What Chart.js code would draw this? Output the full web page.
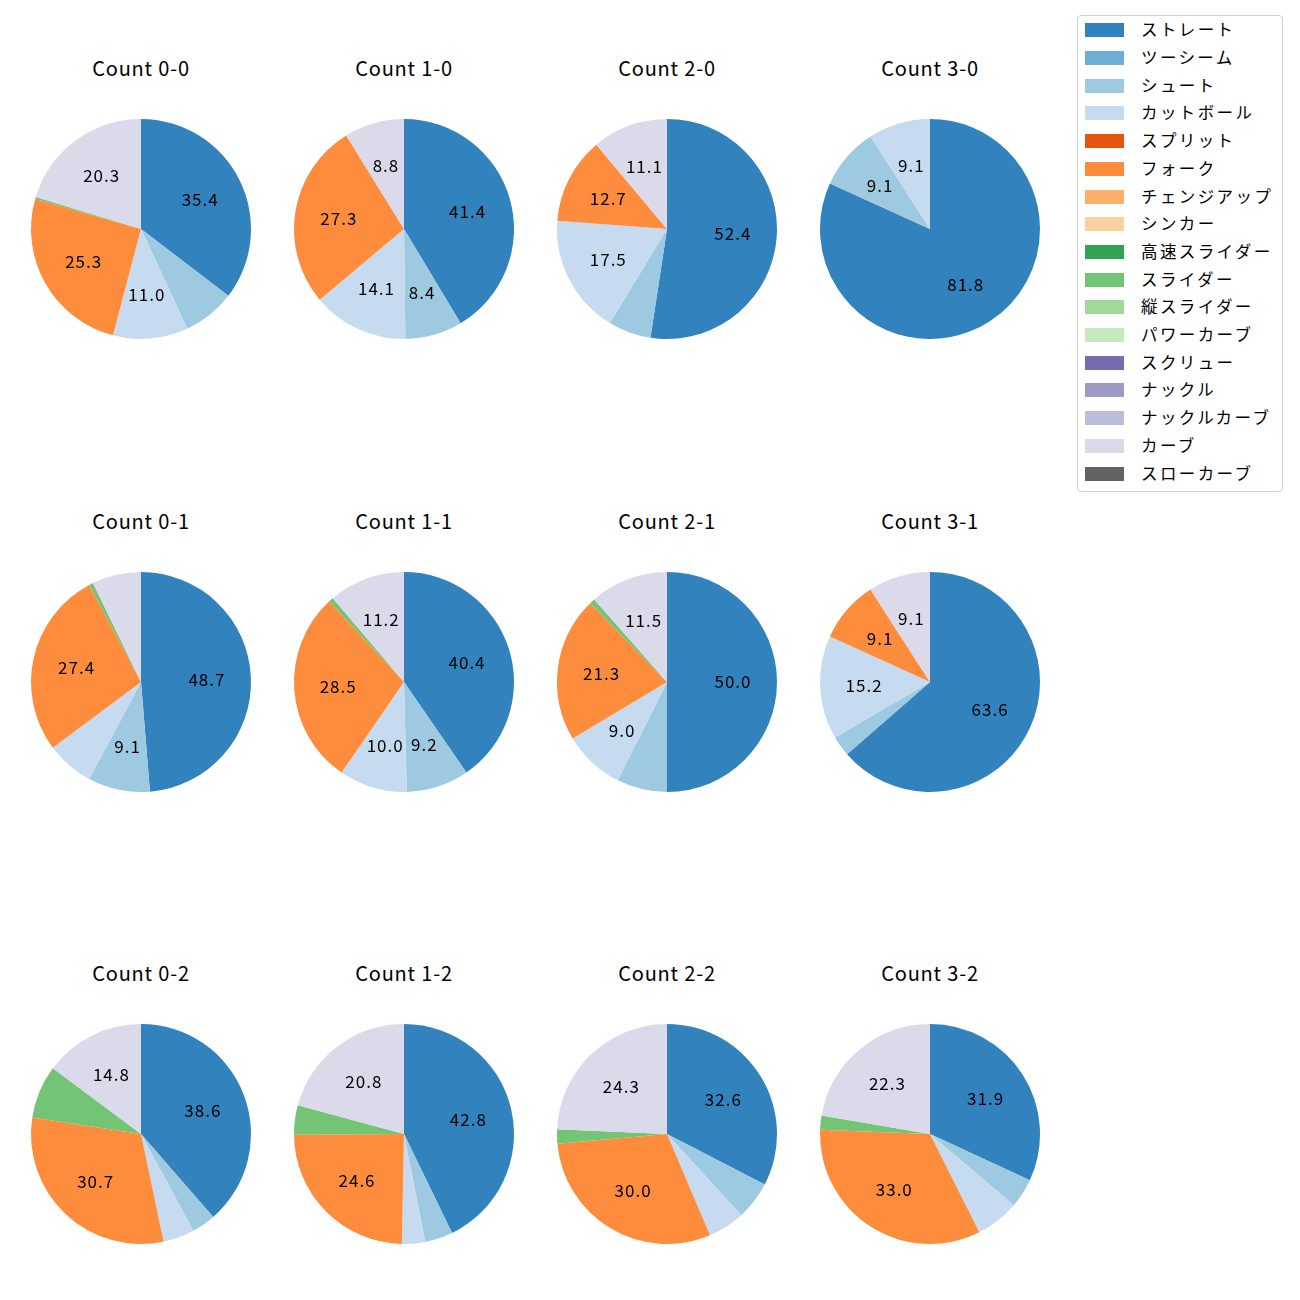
<!DOCTYPE html>
<html>
<head>
<meta charset="utf-8">
<script src="https://cdn.jsdelivr.net/npm/chart.js@4/dist/chart.umd.min.js"></script>
<style>
    body { margin: 0; background: #fff; }
    #wrap { position: relative; width: 1300px; height: 1300px; font-family: "Noto Sans CJK JP", "Noto Sans", sans-serif; }
    .pie { position: absolute; }
    .title { position: absolute; width: 200px; text-align: center; font-size: 20px; letter-spacing: 0.8px; color: #000; line-height: 24px; }
    #legend { position: absolute; left: 1077px; top: 15px; width: 204px; height: 475px; border: 1px solid #d0d0d0; border-radius: 4px; background: rgba(255,255,255,0.8); }
    .leg-item { position: absolute; left: 0; height: 20px; font-size: 16.5px; letter-spacing: 2.4px; line-height: 20px; color: #000; }
    .leg-box { position: absolute; left: 7px; top: 3px; width: 39px; height: 14px; }
    .leg-text { position: absolute; left: 63px; top: -1px; white-space: nowrap; }
</style>
</head>
<body>
<div id="wrap"><div id="legend"></div></div>
<script>
const pitchTypes = ['ストレート', 'ツーシーム', 'シュート', 'カットボール', 'スプリット', 'フォーク', 'チェンジアップ', 'シンカー',
    '高速スライダー', 'スライダー', '縦スライダー', 'パワーカーブ', 'スクリュー', 'ナックル', 'ナックルカーブ', 'カーブ', 'スローカーブ'];
const pitchColors = ['#3182bd', '#6baed6', '#9ecae1', '#c6dbef', '#e6550d', '#fd8d3c', '#fdae6b', '#fdd0a2',
    '#31a354', '#74c476', '#a1d99b', '#c7e9c0', '#756bb1', '#9e9ac8', '#bcbddc', '#dadaeb', '#636363'];

// share of each pitch type (%), same order as pitchTypes
const count00 = [35.4, 0, 7.7, 11.0, 0, 25.3, 0, 0, 0, 0.3, 0, 0, 0, 0, 0, 20.3, 0];
const count10 = [41.4, 0, 8.4, 14.1, 0, 27.3, 0, 0, 0, 0, 0, 0, 0, 0, 0, 8.8, 0];
const count20 = [52.4, 0, 6.3, 17.5, 0, 12.7, 0, 0, 0, 0, 0, 0, 0, 0, 0, 11.1, 0];
const count30 = [81.8, 0, 9.1, 9.1, 0, 0, 0, 0, 0, 0, 0, 0, 0, 0, 0, 0, 0];
const count01 = [48.7, 0, 9.1, 7.0, 0, 27.4, 0, 0, 0, 0.6, 0, 0, 0, 0, 0, 7.2, 0];
const count11 = [40.4, 0, 9.2, 10.0, 0, 28.5, 0, 0, 0, 0.7, 0, 0, 0, 0, 0, 11.2, 0];
const count21 = [50.0, 0, 7.4, 9.0, 0, 21.3, 0, 0, 0, 0.8, 0, 0, 0, 0, 0, 11.5, 0];
const count31 = [63.6, 0, 3.0, 15.2, 0, 9.1, 0, 0, 0, 0, 0, 0, 0, 0, 0, 9.1, 0];
const count02 = [38.6, 0, 3.5, 4.6, 0, 30.7, 0, 0, 0, 7.8, 0, 0, 0, 0, 0, 14.8, 0];
const count12 = [42.8, 0, 4.1, 3.4, 0, 24.6, 0, 0, 0, 4.3, 0, 0, 0, 0, 0, 20.8, 0];
const count22 = [32.6, 0, 5.6, 5.4, 0, 30.0, 0, 0, 0, 2.1, 0, 0, 0, 0, 0, 24.3, 0];
const count32 = [31.9, 0, 4.3, 6.4, 0, 33.0, 0, 0, 0, 2.1, 0, 0, 0, 0, 0, 22.3, 0];

const countTitles = [
    ['Count 0-0', 'Count 1-0', 'Count 2-0', 'Count 3-0'],
    ['Count 0-1', 'Count 1-1', 'Count 2-1', 'Count 3-1'],
    ['Count 0-2', 'Count 1-2', 'Count 2-2', 'Count 3-2']
];
const countData = [
    [count00, count10, count20, count30],
    [count01, count11, count21, count31],
    [count02, count12, count22, count32]
];

const colX = [141, 404, 667, 930];
const rowY = [229, 681.5, 1134];
const PIE_R = 110;

// percentage labels at 0.6 of the radius, like autopct
const pctLabels = {
    id: 'pctLabels',
    afterDatasetsDraw(chart) {
        const ctx = chart.ctx;
        const values = chart.data.datasets[0].data;
        const total = values.reduce((a, b) => a + b, 0);
        ctx.save();
        ctx.font = '17px "Noto Sans CJK JP", "Noto Sans", sans-serif';
        ctx.letterSpacing = '1px';
        ctx.fillStyle = '#000';
        ctx.textAlign = 'center';
        ctx.textBaseline = 'middle';
        chart.getDatasetMeta(0).data.forEach((arc, i) => {
            const pct = values[i] / total * 100;
            if (pct < 8) return;
            const p = arc.getProps(['x', 'y', 'startAngle', 'endAngle', 'outerRadius'], true);
            const mid = (p.startAngle + p.endAngle) / 2;
            const r = p.outerRadius * 0.6;
            ctx.fillText(pct.toFixed(1), p.x + Math.cos(mid) * r, p.y + Math.sin(mid) * r);
        });
        ctx.restore();
    }
};

const wrap = document.getElementById('wrap');

countData.forEach((row, ri) => {
    row.forEach((values, ci) => {
        const cx = colX[ci], cy = rowY[ri];
        const size = PIE_R * 2 + 20;

        const title = document.createElement('div');
        title.className = 'title';
        title.style.left = (cx - 100) + 'px';
        title.style.top = (cy - 173) + 'px';
        title.innerText = countTitles[ri][ci];
        wrap.appendChild(title);

        const canvas = document.createElement('canvas');
        canvas.className = 'pie';
        canvas.width = size;
        canvas.height = size;
        canvas.style.left = (cx - size / 2) + 'px';
        canvas.style.top = (cy - size / 2) + 'px';
        canvas.style.width = size + 'px';
        canvas.style.height = size + 'px';
        wrap.appendChild(canvas);

        new Chart(canvas, {
            type: 'pie',
            data: {
                labels: pitchTypes,
                datasets: [{
                    data: values,
                    backgroundColor: pitchColors,
                    borderWidth: 0
                }]
            },
            options: {
                responsive: false,
                animation: false,
                layout: { padding: 10 },
                plugins: {
                    legend: { display: false },
                    tooltip: { enabled: false }
                }
            },
            plugins: [pctLabels]
        });
    });
});

// legend
const legend = document.getElementById('legend');
pitchTypes.forEach((name, i) => {
    const item = document.createElement('div');
    item.className = 'leg-item';
    item.style.top = (14.3 + i * 27.7 - 10) + 'px';
    item.innerHTML = `<div class="leg-box" style="background:${pitchColors[i]}"></div><div class="leg-text">${name}</div>`;
    legend.appendChild(item);
});
</script>
</body>
</html>
